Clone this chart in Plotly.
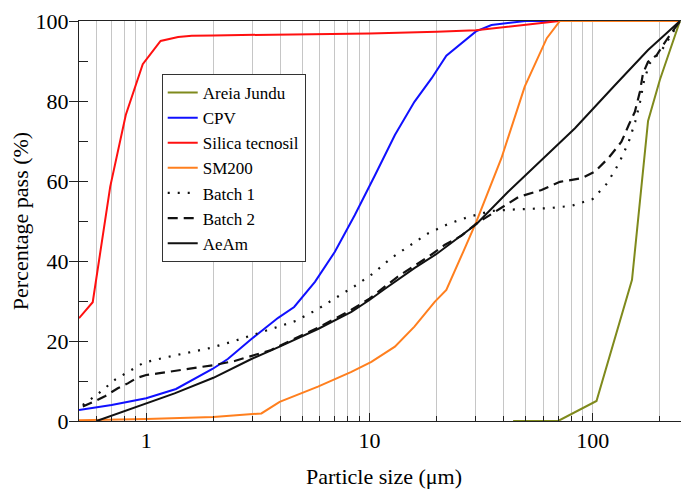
import plotly.graph_objects as go
import numpy as np

# ---------------- data ----------------
areia_x = [44, 70, 104, 150, 177, 200, 246]
areia_y = [0, 0, 5, 35.3, 75, 85.3, 100]

cpv_x = [0.5, 0.7, 1.0, 1.36, 1.98, 2.32, 2.96, 3.4, 3.9, 4.6, 5.7, 7.0, 8.6, 10.6,
         13.0, 15.9, 19.0, 22.1, 30.0, 35.2, 50, 71]
cpv_y = [2.75, 4.0, 5.7, 8.0, 13.0, 15.5, 20.5, 23.2, 25.8, 28.5, 34.8, 42.3, 51.5, 61.5,
         71.5, 79.8, 85.7, 91.3, 97.4, 99.0, 100, 100]

silica_x = [0.5, 0.576, 0.69, 0.81, 0.965, 1.16, 1.39, 1.6, 2.0, 5, 10, 20, 30, 71]
silica_y = [25.7, 29.7, 58.6, 76.5, 89.2, 95, 96, 96.3, 96.4, 96.6, 96.9, 97.3, 97.7, 100]

sm200_x = [0.5, 1.0, 2.0, 3.28, 3.96, 5.88, 8.3, 10.2, 13.0, 15.9, 19.6, 22.1, 26.3,
           30.1, 39, 49.6, 62.3, 71.3, 246]
sm200_y = [0.2, 0.5, 1.0, 1.9, 4.8, 8.6, 12.3, 14.8, 18.6, 23.6, 29.8, 32.75, 42.3,
           49.8, 65.7, 83.6, 95.7, 100, 100]

batch1_x = [0.52, 0.606, 0.728, 0.886, 0.976, 1.22, 1.54, 1.92, 2.42, 3.06, 3.76, 4.67,
            5.78, 7.06, 8.6, 10.4, 12.5, 15.1, 18.3, 22.5, 28.1, 35.2, 44.8, 63.3, 80.6,
            100, 116, 131, 145, 155, 163, 170, 180, 204, 229, 246]
batch1_y = [4.0, 6.7, 10.4, 13.2, 14.6, 15.9, 17.1, 18.2, 19.8, 21.7, 23.2, 25.0,
            27.75, 30.7, 33.75, 36.9, 40.7, 43.8, 46.9, 49.25, 51.1, 52.5, 52.9, 53.2, 53.8,
            55.5, 59.4, 64.4, 69.8, 74.8, 79.8, 85.25, 89.4, 92.75, 97.3, 100]

batch2_x = [0.52, 0.65, 0.746, 0.827, 0.902, 1.0, 1.13, 1.34, 1.65, 2.02, 2.49, 3.06,
            3.63, 4.17, 5.88, 8.3, 10, 13.4, 15.7, 18.3, 21.7, 25.8, 30, 35.2, 46.5, 59,
            71.3, 89.4, 102, 117.5, 134.5, 145, 154.5, 162.7, 168, 177, 193.6, 214, 246]
batch2_y = [3.6, 6.1, 8.2, 9.4, 10.7, 11.5, 11.9, 12.5, 13.2, 14.0, 15.0, 16.5,
            17.75, 19.4, 23.3, 27.8, 30.6, 36.1, 38.6, 41.0, 44.0, 46.3, 49.3, 51.7, 56.0, 57.75,
            59.8, 60.7, 62.3, 65.7, 69.8, 74.0, 77.3, 82.3, 86.9, 89.8, 91.5, 95.25, 100]

aeam_x = [0.6, 1.0, 1.34, 2.0, 2.96, 3.96, 5.88, 8.3, 10, 11.7, 15.9, 19.9, 25.8, 30.1,
          41.8, 59, 83.3, 126, 177, 246]
aeam_y = [0, 4.4, 6.9, 10.8, 15.5, 18.6, 23, 27.3, 30.25, 33, 38.2, 41.7, 46.3, 49.2,
          57.3, 65.25, 73.2, 84, 92.75, 100]

x_major_ticks = [1, 10, 100]
x_minor_ticks = [0.6, 0.7, 0.8, 0.9, 2, 3, 4, 5, 6, 7, 8, 9,
                 20, 30, 40, 50, 60, 70, 80, 90, 200]
x_min, x_max = 0.5, 270
# -----------------------------------------------------------------

FONT = "Liberation Serif, Times New Roman, serif"
GRID = "#c6c6c6"
AXC = "#222222"

fig = go.Figure()
series = [
    ("Areia Jundu", areia_x, areia_y, "#7f8a1c", "solid", 2),
    ("CPV", cpv_x, cpv_y, "#1010ff", "solid", 2),
    ("Silica tecnosil", silica_x, silica_y, "#ff1010", "solid", 2),
    ("SM200", sm200_x, sm200_y, "#ff7f1e", "solid", 2),
    ("Batch 1", batch1_x, batch1_y, "#111111", "2px,8px", 2.2),
    ("Batch 2", batch2_x, batch2_y, "#111111", "10px,6px", 2.2),
    ("AeAm", aeam_x, aeam_y, "#111111", "solid", 2),
]
for name, xs, ys, col, dash, w in series:
    fig.add_trace(go.Scatter(x=xs, y=ys, name=name, mode="lines",
                             line=dict(color=col, dash=dash, width=w)))

# empty traces so that the overlay axes (minor ticks / grid) get drawn
fig.add_trace(go.Scatter(x=[], y=[], xaxis="x2", yaxis="y", showlegend=False,
                         hoverinfo="skip", mode="lines"))
fig.add_trace(go.Scatter(x=[], y=[], xaxis="x", yaxis="y2", showlegend=False,
                         hoverinfo="skip", mode="lines"))

# the page body has an 8px margin, so the figure is 8px smaller and the margins shifted
fig.update_layout(
    width=681, height=485,
    margin=dict(l=71, r=0, t=13, b=72, autoexpand=False),
    paper_bgcolor="white", plot_bgcolor="white",
    font=dict(family=FONT, size=22, color="black"),
    showlegend=True,
    legend=dict(x=0.1356, y=0.8675, xanchor="left", yanchor="top",
                bordercolor="#333333", borderwidth=1, bgcolor="white",
                font=dict(family=FONT, size=17, color="black"),
                tracegroupgap=0),
    xaxis=dict(type="log", range=[np.log10(x_min), np.log10(x_max)],
               tickmode="array", tickvals=x_major_ticks, ticktext=["1", "10", "100"],
               ticks="inside", ticklen=8, tickcolor=AXC, tickwidth=1,
               showgrid=True, gridcolor=GRID, gridwidth=1,
               showline=True, linecolor=AXC, linewidth=1, mirror=True,
               zeroline=False, automargin=False,
               title=dict(text="Particle size (μm)", font=dict(size=22), standoff=16),
               tickfont=dict(size=22)),
    xaxis2=dict(type="log", range=[np.log10(x_min), np.log10(x_max)],
                overlaying="x", anchor="y", side="bottom",
                tickmode="array", tickvals=x_minor_ticks,
                ticks="inside", ticklen=5, tickcolor=AXC, tickwidth=1,
                showticklabels=False, showgrid=True, gridcolor=GRID, gridwidth=1,
                showline=False, zeroline=False, automargin=False),
    yaxis=dict(range=[0, 100], tickmode="linear", tick0=0, dtick=20,
               ticks="outside", ticklen=9, tickcolor=AXC, tickwidth=1,
               ticklabelstandoff=-4,
               showgrid=False, showline=True, linecolor=AXC, linewidth=1,
               zeroline=False, automargin=False,
               title=dict(text="Percentage pass (%)", font=dict(size=22), standoff=2),
               tickfont=dict(size=22)),
    yaxis2=dict(range=[0, 100], overlaying="y", anchor="x", side="left",
                tickmode="linear", tick0=0, dtick=10,
                ticks="inside", ticklen=9, tickcolor=AXC, tickwidth=1,
                showticklabels=False, showgrid=False, showline=False, zeroline=False,
                automargin=False),
)

fig.write_html("out.html")
